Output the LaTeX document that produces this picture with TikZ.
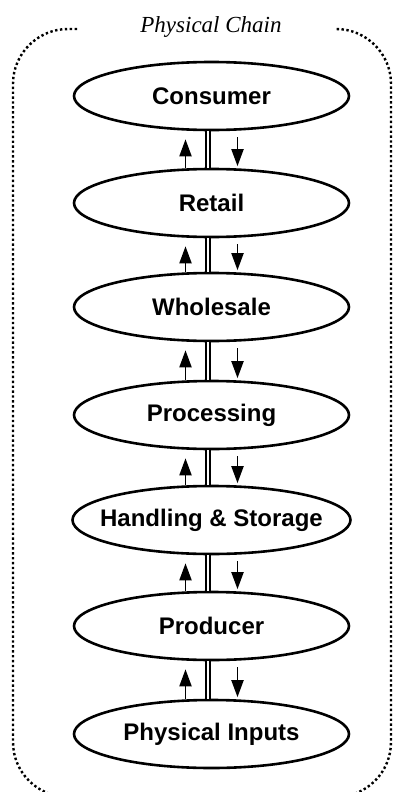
\documentclass[tikz,border=0pt]{standalone}
\usepackage{fontspec}
\setmainfont{Liberation Sans}
\newfontfamily\titlefont{Liberation Serif}
\usetikzlibrary{calc,arrows.meta,shapes.geometric}
\begin{document}
\begin{tikzpicture}[x=1pt,y=-1pt,
  stage/.style={ellipse, draw, line width=2.6pt, minimum width=275pt, minimum height=68pt,
    inner sep=0pt, font=\fontsize{24}{28}\selectfont\bfseries},
  flowarrow/.style={line width=1.9pt, -{Triangle[length=17pt,width=12pt]}},
  linkline/.style={double, double distance=2.3pt, line width=1.7pt},
  chainframe/.style={line width=2.4pt, dash pattern=on 2.4pt off 2.5pt, rounded corners=55pt},
  titletext/.style={font=\titlefont\itshape\fontsize{23}{28}\selectfont, anchor=base, inner sep=0pt}]
\useasboundingbox (0,0) rectangle (393,792);
\clip (0,0) rectangle (393,792);

\draw[chainframe] (77,29) -- (13,29) -- (13,797) -- (391,797) -- (391,29) -- (339,29);
\node[titletext] (title) at (211,33) {Physical Chain};

\node[stage] (consumer)   at (211.5,96)  {Consumer};
\node[stage] (retail)     at (211.5,203) {Retail};
\node[stage] (wholesale)  at (211.5,307) {Wholesale};
\node[stage] (processing) at (211.5,415) {Processing};
\node[stage, minimum width=278pt] (handling) at (211.5,520) {\makebox[0pt][c]{Handling \& Storage}};
\node[stage] (producer)   at (211.5,626) {Producer};
\node[stage] (inputs)     at (211.5,734) {Physical Inputs};

\foreach \up/\lo in {consumer/retail, retail/wholesale, wholesale/processing,
                     processing/handling, handling/producer, producer/inputs}{
  \draw[linkline] ([xshift=-3.5pt]\up.south) -- ([xshift=-3.5pt]\lo.north);
  \draw[flowarrow] ([xshift=-26pt]\lo.north) -- ([xshift=-26pt,yshift=-8pt]\up.south);
  \draw[flowarrow] ([xshift=26pt,yshift=-6pt]\up.south) -- ([xshift=26pt,yshift=1.5pt]\lo.north);
}
\end{tikzpicture}
\end{document}
